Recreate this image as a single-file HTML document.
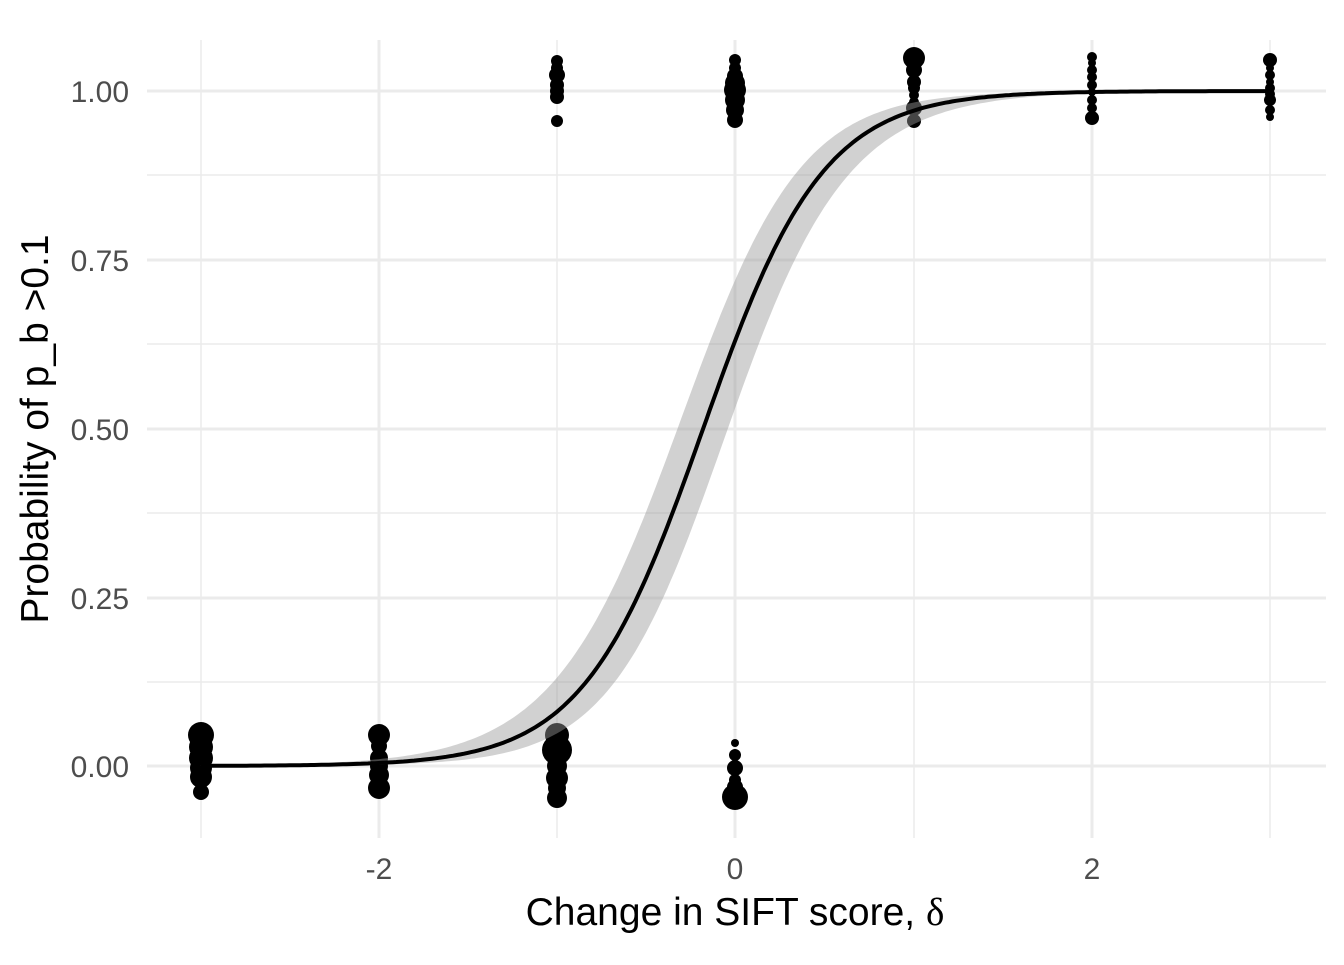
<!DOCTYPE html>
<html><head><meta charset="utf-8"><style>body{margin:0;background:#fff}</style></head>
<body>
<svg id="s" width="1344" height="960" xmlns="http://www.w3.org/2000/svg" font-family="Liberation Sans, sans-serif">
<g stroke="#ebebeb">
<line x1="147" x2="1326" y1="682" y2="682" stroke-width="1.5"/>
<line x1="147" x2="1326" y1="513" y2="513" stroke-width="1.5"/>
<line x1="147" x2="1326" y1="344" y2="344" stroke-width="1.5"/>
<line x1="147" x2="1326" y1="175" y2="175" stroke-width="1.5"/>
<line x1="201" x2="201" y1="40" y2="838" stroke-width="1.5"/>
<line x1="557" x2="557" y1="40" y2="838" stroke-width="1.5"/>
<line x1="914" x2="914" y1="40" y2="838" stroke-width="1.5"/>
<line x1="1270" x2="1270" y1="40" y2="838" stroke-width="1.5"/>
<line x1="147" x2="1326" y1="766" y2="766" stroke-width="3"/>
<line x1="147" x2="1326" y1="598" y2="598" stroke-width="3"/>
<line x1="147" x2="1326" y1="429" y2="429" stroke-width="3"/>
<line x1="147" x2="1326" y1="260" y2="260" stroke-width="3"/>
<line x1="147" x2="1326" y1="91" y2="91" stroke-width="3"/>
<line x1="379" x2="379" y1="40" y2="838" stroke-width="3"/>
<line x1="735" x2="735" y1="40" y2="838" stroke-width="3"/>
<line x1="1092" x2="1092" y1="40" y2="838" stroke-width="3"/>
</g>
<g fill="#000">
<circle cx="201" cy="735" r="13"/><circle cx="201" cy="758" r="12"/><circle cx="201" cy="777" r="11"/><circle cx="201" cy="792" r="8"/><circle cx="201" cy="747" r="12"/><circle cx="201" cy="768" r="11"/>
<circle cx="379" cy="735" r="11"/><circle cx="379" cy="758" r="9"/><circle cx="379" cy="775" r="10"/><circle cx="379" cy="788" r="11"/><circle cx="379" cy="746" r="8"/><circle cx="379" cy="766" r="9"/>
<circle cx="557" cy="735" r="12"/><circle cx="557" cy="750" r="15"/><circle cx="557" cy="778" r="11"/><circle cx="557" cy="798" r="10"/><circle cx="557" cy="766" r="10"/><circle cx="557" cy="788" r="9"/>
<circle cx="735" cy="743" r="4"/><circle cx="735" cy="755" r="6"/><circle cx="735" cy="768" r="8"/><circle cx="735" cy="797" r="13"/><circle cx="735" cy="780" r="6"/><circle cx="735" cy="787" r="8"/>
<circle cx="557" cy="61" r="6"/><circle cx="557" cy="75" r="8"/><circle cx="557" cy="85" r="7"/><circle cx="557" cy="97" r="7"/><circle cx="557" cy="121" r="6"/><circle cx="557" cy="68" r="6"/><circle cx="557" cy="91" r="7"/>
<circle cx="735" cy="60" r="6"/><circle cx="735" cy="76" r="8"/><circle cx="735" cy="90" r="11"/><circle cx="735" cy="100" r="10"/><circle cx="735" cy="110" r="9"/><circle cx="735" cy="120" r="8"/><circle cx="735" cy="68" r="6"/><circle cx="735" cy="83" r="10"/>
<circle cx="914" cy="58" r="11"/><circle cx="914" cy="70" r="8"/><circle cx="914" cy="82" r="7"/><circle cx="914" cy="95" r="5"/><circle cx="914" cy="108" r="8"/><circle cx="914" cy="121" r="7"/><circle cx="914" cy="88" r="6"/><circle cx="914" cy="102" r="5"/>
<circle cx="1092" cy="57" r="5"/><circle cx="1092" cy="70" r="5"/><circle cx="1092" cy="85" r="5"/><circle cx="1092" cy="100" r="5"/><circle cx="1092" cy="108" r="5"/><circle cx="1092" cy="118" r="7"/><circle cx="1092" cy="63" r="4"/><circle cx="1092" cy="77" r="5"/><circle cx="1092" cy="92" r="4"/>
<circle cx="1270" cy="60" r="7"/><circle cx="1270" cy="75" r="5"/><circle cx="1270" cy="88" r="5"/><circle cx="1270" cy="100" r="6"/><circle cx="1270" cy="110" r="5"/><circle cx="1270" cy="117" r="4"/><circle cx="1270" cy="68" r="4"/><circle cx="1270" cy="82" r="4"/><circle cx="1270" cy="94" r="5"/>
</g>
<path id="band" fill="#999" fill-opacity="0.45"/>
<path id="curve" fill="none" stroke="#000" stroke-width="4"/>
<g font-size="30" fill="#4d4d4d" text-anchor="end">
<text x="129" y="777">0.00</text><text x="129" y="609">0.25</text><text x="129" y="440">0.50</text><text x="129" y="271">0.75</text><text x="129" y="102">1.00</text>
</g>
<g font-size="30" fill="#4d4d4d" text-anchor="middle">
<text x="379" y="879">-2</text><text x="735" y="879">0</text><text x="1092" y="879">2</text>
</g>
<text x="735" y="925" font-size="39" text-anchor="middle">Change in SIFT score, <tspan font-family="Liberation Serif, serif">δ</tspan></text>
<text transform="translate(48,429) rotate(-90)" font-size="39" text-anchor="middle">Probability of p_b &gt;0.1</text>
<script>
var X=function(x){return 735+178.25*x},Y=function(p){return 766-675*p};
var a=0.53,b=2.97,c="",up=[],lo=[];
for(var i=0;i<=300;i++){var x=-3+6*i/300,l=a+b*x,se=1.96*Math.sqrt(0.044+0.033*x*x);
var p=1/(1+Math.exp(-l));c+=(i?"L":"M")+X(x).toFixed(1)+","+Y(p).toFixed(1);
up.push(X(x).toFixed(1)+","+Y(1/(1+Math.exp(-(l+se)))).toFixed(1));
lo.unshift(X(x).toFixed(1)+","+Y(1/(1+Math.exp(-(l-se)))).toFixed(1));}
document.getElementById("curve").setAttribute("d",c);
document.getElementById("band").setAttribute("d","M"+up.join("L")+"L"+lo.join("L")+"Z");
</script>
</svg>
</body></html>
